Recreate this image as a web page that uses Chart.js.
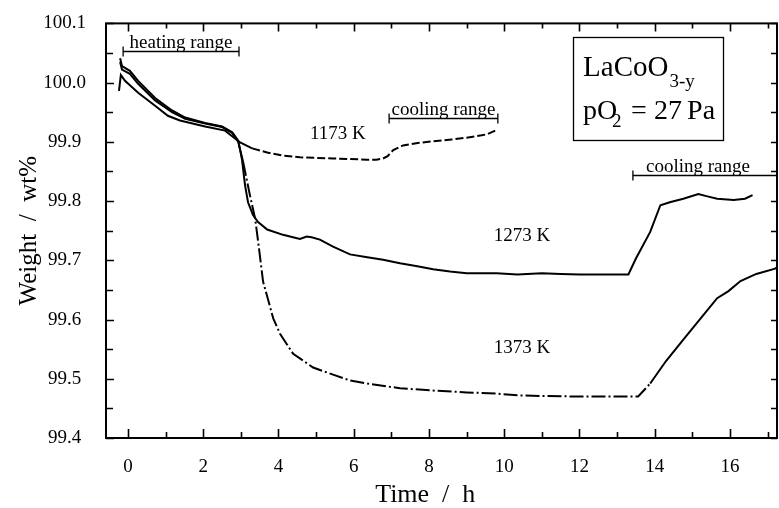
<!DOCTYPE html>
<html><head><meta charset="utf-8">
<script src="https://cdn.jsdelivr.net/npm/chart.js@4/dist/chart.umd.min.js"></script>
<style>html,body{margin:0;padding:0;background:#fff}#wrap{width:779px;height:508px}</style>
</head><body><div id="wrap"><canvas id="c" width="779" height="508"></canvas></div>
<script>
// ---- data ----
const seriesLabels = ['1173 K', '1273 K', '1373 K'];

const t1173 = [-0.24, -0.19, -0.08, 0.27, 0.72, 1.06, 1.38, 2.05, 2.58, 2.98, 3.3, 3.7, 4.1, 4.57, 5.0, 5.45, 5.9, 6.36, 6.6, 6.78, 6.9, 7.05, 7.31, 7.7, 8.11, 8.6, 9.0, 9.4, 9.55, 9.76];
const w1173 = [99.986, 100.013, 100.003, 99.983, 99.961, 99.944, 99.936, 99.926, 99.919, 99.899, 99.889, 99.882, 99.877, 99.874, 99.873, 99.872, 99.871, 99.870, 99.870, 99.872, 99.876, 99.886, 99.894, 99.898, 99.901, 99.904, 99.907, 99.911, 99.913, 99.919];

const t1273 = [-0.21, -0.16, 0.05, 0.27, 0.72, 1.17, 1.52, 2.05, 2.5, 2.77, 2.93, 3.03, 3.11, 3.19, 3.32, 3.45, 3.7, 4.12, 4.57, 4.75, 4.88, 5.1, 5.45, 5.9, 6.36, 6.78, 7.23, 7.69, 8.11, 8.56, 9.0, 9.8, 10.35, 11.0, 11.5, 12.0, 12.5, 13.0, 13.3, 13.5, 13.88, 14.15, 14.4, 14.76, 15.16, 15.4, 15.66, 16.1, 16.4, 16.6];
const w1273 = [100.041, 100.028, 100.020, 100.003, 99.974, 99.953, 99.941, 99.932, 99.926, 99.916, 99.902, 99.870, 99.827, 99.798, 99.777, 99.765, 99.752, 99.743, 99.736, 99.740, 99.739, 99.735, 99.723, 99.710, 99.705, 99.701, 99.695, 99.690, 99.685, 99.681, 99.678, 99.678, 99.676, 99.678, 99.677, 99.676, 99.676, 99.676, 99.676, 99.703, 99.748, 99.793, 99.798, 99.804, 99.812, 99.808, 99.804, 99.802, 99.804, 99.810];

const t1373 = [-0.21, -0.16, 0.05, 0.27, 0.72, 1.17, 1.52, 2.05, 2.5, 2.77, 2.93, 3.06, 3.24, 3.38, 3.46, 3.59, 3.86, 4.04, 4.39, 4.92, 5.45, 5.9, 6.36, 7.23, 8.11, 9.0, 9.8, 10.35, 11.0, 12.0, 13.0, 13.56, 13.88, 14.3, 14.76, 15.21, 15.66, 15.96, 16.28, 16.7, 17.2, 17.25];
const w1373 = [100.035, 100.022, 100.015, 99.998, 99.970, 99.950, 99.939, 99.931, 99.925, 99.915, 99.900, 99.866, 99.810, 99.770, 99.731, 99.664, 99.602, 99.576, 99.542, 99.519, 99.507, 99.497, 99.492, 99.484, 99.480, 99.477, 99.475, 99.472, 99.471, 99.470, 99.470, 99.470, 99.492, 99.530, 99.566, 99.601, 99.636, 99.648, 99.665, 99.677, 99.686, 99.688];

const xTicks = [0, 2, 4, 6, 8, 10, 12, 14, 16];
const yTicks = [99.4, 99.5, 99.6, 99.7, 99.8, 99.9, 100.0, 100.1];

// ---- chart ----
const SERIF = "'Liberation Serif', 'Times New Roman', serif";
const pts = (t, w) => t.map((x, i) => ({x: x, y: w[i]}));

const dashFrom = (lo, hi, pattern) => ctx => {
  const x = ctx.p0.parsed.x;
  return (x >= lo && x < hi) ? pattern : undefined;
};

const decor = {
  id: 'decor',
  afterDraw(chart) {
    const {ctx, chartArea: a, scales: {x, y}} = chart;
    ctx.save();
    ctx.strokeStyle = '#000';
    ctx.fillStyle = '#000';
    // frame
    ctx.lineWidth = 2;
    ctx.strokeRect(a.left, a.top, a.right - a.left, a.bottom - a.top);
    // ticks
    ctx.lineWidth = 1.6;
    ctx.beginPath();
    for (let v = 0; v <= 17; v++) {
      const px = Math.round(x.getPixelForValue(v)) + 0.5;
      const L = v % 2 === 0 ? 9 : 6;
      const Lt = v % 2 === 0 ? 8 : 5;
      ctx.moveTo(px, a.bottom); ctx.lineTo(px, a.bottom - L);
      ctx.moveTo(px, a.top); ctx.lineTo(px, a.top + Lt);
    }
    for (let k = 0; k <= 14; k++) {
      const v = 99.4 + k * 0.05;
      const py = Math.round(y.getPixelForValue(v)) + 0.5;
      const L = k % 2 === 0 ? 8 : 7;
      ctx.moveTo(a.left, py); ctx.lineTo(a.left + L, py);
      ctx.moveTo(a.right, py); ctx.lineTo(a.right - 6, py);
    }
    ctx.stroke();

    // range brackets
    const bracket = (x0, x1, yv, text, tx) => {
      const p0 = x.getPixelForValue(x0), p1 = Math.min(x.getPixelForValue(x1), a.right);
      const py = Math.round(y.getPixelForValue(yv)) + 0.5;
      ctx.lineWidth = 1.3;
      ctx.beginPath();
      ctx.moveTo(p0, py); ctx.lineTo(p1, py);
      ctx.moveTo(p0, py - 5); ctx.lineTo(p0, py + 5);
      ctx.moveTo(p1, py - 5); ctx.lineTo(p1, py + 5);
      ctx.stroke();
      ctx.font = '19px ' + SERIF;
      ctx.textAlign = 'center';
      ctx.textBaseline = 'alphabetic';
      ctx.fillText(text, tx === undefined ? (p0 + p1) / 2 : x.getPixelForValue(tx), py - 4);
    };
    bracket(-0.13, 2.95, 100.053, 'heating range');
    bracket(6.94, 9.83, 99.940, 'cooling range');
    bracket(13.42, 17.25, 99.844, 'cooling range', 15.15);

    // series labels
    ctx.font = '19px ' + SERIF;
    ctx.textAlign = 'center';
    ctx.textBaseline = 'alphabetic';
    ctx.fillText(seriesLabels[0], x.getPixelForValue(5.58), y.getPixelForValue(99.905));
    ctx.fillText(seriesLabels[1], x.getPixelForValue(10.47), y.getPixelForValue(99.733));
    ctx.fillText(seriesLabels[2], x.getPixelForValue(10.47), y.getPixelForValue(99.544));

    // info box
    const bx0 = x.getPixelForValue(11.83), bx1 = x.getPixelForValue(15.81);
    const by0 = y.getPixelForValue(100.077), by1 = y.getPixelForValue(99.903);
    ctx.lineWidth = 1.3;
    ctx.strokeRect(Math.round(bx0) + 0.5, Math.round(by0) + 0.5, Math.round(bx1 - bx0), Math.round(by1 - by0));
    ctx.textAlign = 'left';
    const tx = bx0 + 10;
    ctx.font = '29px ' + SERIF;
    ctx.fillText('LaCoO', tx, by0 + 39);
    const w = ctx.measureText('LaCoO').width;
    ctx.font = '19px ' + SERIF;
    ctx.fillText('3-y', tx + w + 1, by0 + 50);
    ctx.font = '28px ' + SERIF;
    ctx.fillText('pO', tx, by0 + 82);
    ctx.font = '19px ' + SERIF;
    ctx.fillText('2', tx + 29, by0 + 90);
    ctx.font = '28px ' + SERIF;
    ctx.fillText('=', tx + 48, by0 + 82);
    ctx.fillText('27', tx + 71, by0 + 82);
    ctx.fillText('Pa', tx + 104, by0 + 82);
    ctx.restore();
  }
};

const lineDs = (label, t, w, seg) => ({
  label: label,
  data: pts(t, w),
  borderColor: '#000',
  borderWidth: 2,
  pointRadius: 0,
  tension: 0,
  fill: false,
  segment: seg ? {borderDash: seg} : undefined
});

new Chart(document.getElementById('c'), {
  type: 'line',
  data: {
    datasets: [
      lineDs(seriesLabels[0], t1173, w1173, dashFrom(3.0, 99, [8, 3])),
      lineDs(seriesLabels[1], t1273, w1273, null),
      lineDs(seriesLabels[2], t1373, w1373, dashFrom(3.0, 13.6, [14, 3, 2, 3]))
    ]
  },
  options: {
    responsive: false,
    animation: false,
    devicePixelRatio: 1,
    layout: {padding: {left: 0, right: 2, top: 19, bottom: 0}},
    plugins: {legend: {display: false}, tooltip: {enabled: false}},
    scales: {
      x: {
        type: 'linear',
        min: -0.585,
        max: 17.25,
        grid: {display: false},
        border: {display: false},
        afterBuildTicks: s => { s.ticks = xTicks.map(v => ({value: v})); },
        afterFit: s => { s.height = 70; },
        ticks: {
          color: '#000',
          padding: 10,
          maxRotation: 0,
          autoSkip: false,
          font: {family: SERIF, size: 19}
        },
        title: {
          display: true,
          text: 'Time  /  h     ',
          color: '#000',
          font: {family: SERIF, size: 26, lineHeight: 1},
          padding: {top: 0, bottom: 0}
        }
      },
      y: {
        type: 'linear',
        min: 99.4,
        max: 100.1,
        grid: {display: false},
        border: {display: false},
        afterBuildTicks: s => { s.ticks = yTicks.map(v => ({value: v})); },
        afterFit: s => { s.width = 106; },
        ticks: {
          color: '#000',
          padding: 12,
          crossAlign: 'center',
          autoSkip: false,
          font: {family: SERIF, size: 19},
          callback: v => Number(v).toFixed(1)
        },
        title: {
          display: true,
          text: 'Weight  /  wt%',
          color: '#000',
          font: {family: SERIF, size: 25, lineHeight: 1},
          padding: {top: 17, bottom: 0}
        }
      }
    }
  },
  plugins: [decor]
});
</script>
</body></html>
